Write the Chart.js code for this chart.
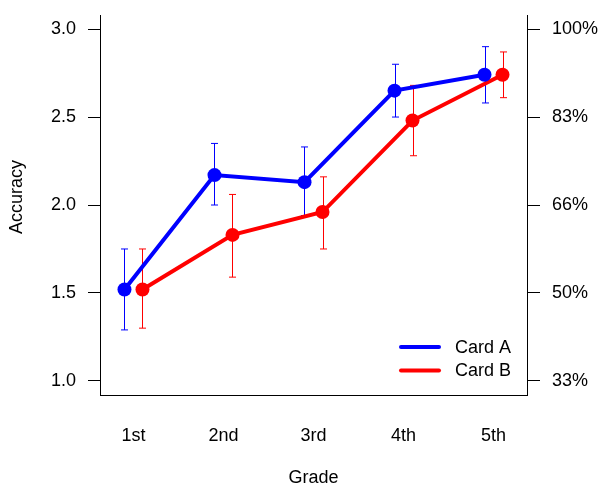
<!DOCTYPE html>
<html>
<head>
<meta charset="utf-8">
<script src="https://cdn.jsdelivr.net/npm/chart.js@4/dist/chart.umd.min.js"></script>
<style>
  html, body { margin: 0; padding: 0; background: #fff; }
  #chart { display: block; }
</style>
</head>
<body>
<canvas id="chart" width="603" height="488"></canvas>
<script>
var categories = ['1st', '2nd', '3rd', '4th', '5th'];

var cardA = [1.52, 2.17, 2.13, 2.65, 2.74];
var cardALow = [1.29, 2.00, 1.94, 2.50, 2.58];
var cardAHigh = [1.75, 2.35, 2.33, 2.80, 2.90];

var cardB = [1.52, 1.83, 1.96, 2.48, 2.74];
var cardBLow = [1.30, 1.59, 1.75, 2.28, 2.61];
var cardBHigh = [1.75, 2.06, 2.16, 2.68, 2.87];

var yTicks = [1.0, 1.5, 2.0, 2.5, 3.0];
var pctLabels = ['33%', '50%', '66%', '83%', '100%'];

var FONT = 'Liberation Sans, Arial, sans-serif';
var SIZE = 18;
var dodge = 0.1;

var toPoints = function (vals, shift) {
    return vals.map(function (v, i) {
        return { x: i + 1 + shift, y: v };
    });
};

var errorBars = {
    id: 'errorBars',
    beforeDatasetsDraw: function (chart) {
        var ctx = chart.ctx;
        var ys = chart.scales.y;
        chart.data.datasets.forEach(function (ds, di) {
            var meta = chart.getDatasetMeta(di);
            ctx.save();
            ctx.strokeStyle = ds.borderColor;
            ctx.lineWidth = 1;
            meta.data.forEach(function (pt, i) {
                var x = Math.round(pt.x) + 0.5;
                var y0 = ys.getPixelForValue(ds.low[i]);
                var y1 = ys.getPixelForValue(ds.high[i]);
                ctx.beginPath();
                ctx.moveTo(x, y0);
                ctx.lineTo(x, y1);
                ctx.moveTo(x - 3.5, y0);
                ctx.lineTo(x + 3.5, y0);
                ctx.moveTo(x - 3.5, y1);
                ctx.lineTo(x + 3.5, y1);
                ctx.stroke();
            });
            ctx.restore();
        });
    }
};

// legend inside the plot, bottom right, plus the y title
var boxLegend = {
    id: 'boxLegend',
    afterDatasetsDraw: function (chart) {
        var ctx = chart.ctx;
        var area = chart.chartArea;
        ctx.save();
        ctx.font = SIZE + 'px ' + FONT;
        ctx.textBaseline = 'middle';
        ctx.textAlign = 'left';
        chart.data.datasets.forEach(function (ds, i) {
            var y = area.bottom - 48 + i * 23.5;
            ctx.strokeStyle = ds.borderColor;
            ctx.lineWidth = 4;
            ctx.lineCap = 'round';
            ctx.beginPath();
            ctx.moveTo(area.right - 126, y);
            ctx.lineTo(area.right - 88, y);
            ctx.stroke();
            ctx.fillStyle = '#000';
            ctx.fillText(ds.label, area.right - 72, y + 1);
        });

        ctx.translate(17, (area.top + area.bottom) / 2 - 8);
        ctx.rotate(-Math.PI / 2);
        ctx.textAlign = 'center';
        ctx.fillText('Accuracy', 0, 0);
        ctx.restore();
    }
};

var setTicks = function (scale) {
    scale.ticks = yTicks.map(function (v) { return { value: v }; });
};

var fitY = function (w) {
    return function (scale) {
        scale.width = w;
        scale.paddingTop = 0;
        scale.paddingBottom = 0;
    };
};

var ctx = document.getElementById('chart').getContext('2d');
var chart = new Chart(ctx, {
    type: 'line',
    data: {
        datasets: [
            {
                label: 'Card A',
                data: toPoints(cardA, -dodge),
                low: cardALow,
                high: cardAHigh,
                borderColor: '#0000ff',
                backgroundColor: '#0000ff',
                borderWidth: 4,
                pointRadius: 7,
                pointBorderWidth: 0,
                pointBackgroundColor: '#0000ff'
            },
            {
                label: 'Card B',
                data: toPoints(cardB, dodge),
                low: cardBLow,
                high: cardBHigh,
                borderColor: '#ff0000',
                backgroundColor: '#ff0000',
                borderWidth: 4,
                pointRadius: 7,
                pointBorderWidth: 0,
                pointBackgroundColor: '#ff0000'
            }
        ]
    },
    options: {
        responsive: false,
        animation: false,
        devicePixelRatio: 1,
        layout: { padding: { top: 15, left: 0, right: 0, bottom: 0 } },
        plugins: {
            legend: { display: false },
            tooltip: { enabled: false }
        },
        scales: {
            x: {
                type: 'linear',
                min: 0.628,
                max: 5.372,
                afterBuildTicks: function (scale) {
                    scale.ticks = categories.map(function (c, i) { return { value: i + 1 }; });
                },
                afterFit: function (scale) {
                    scale.height = 93;
                    scale.paddingLeft = 0;
                    scale.paddingRight = 0;
                },
                grid: { display: false },
                border: { display: true, color: '#000', width: 1 },
                ticks: {
                    color: '#000',
                    font: { family: FONT, size: SIZE },
                    padding: 22,
                    maxRotation: 0,
                    callback: function (v) { return categories[Math.round(v) - 1]; }
                },
                title: {
                    display: true,
                    text: 'Grade',
                    color: '#000',
                    font: { family: FONT, size: SIZE },
                    padding: { top: 0, bottom: -1 }
                }
            },
            y: {
                type: 'linear',
                position: 'left',
                min: 0.92,
                max: 3.08,
                afterBuildTicks: setTicks,
                afterFit: fitY(100),
                grid: {
                    display: true,
                    drawOnChartArea: false,
                    drawTicks: true,
                    tickLength: 12,
                    tickColor: '#000',
                    color: '#000'
                },
                border: { display: true, color: '#000', width: 1 },
                ticks: {
                    color: '#000',
                    font: { family: FONT, size: SIZE },
                    padding: 12,
                    callback: function (v) { return v.toFixed(1); }
                }
            },
            y2: {
                type: 'linear',
                position: 'right',
                display: true,
                min: 0.92,
                max: 3.08,
                afterBuildTicks: setTicks,
                afterFit: fitY(76),
                grid: {
                    display: true,
                    drawOnChartArea: false,
                    drawTicks: true,
                    tickLength: 13,
                    tickColor: '#000',
                    color: '#000'
                },
                border: { display: true, color: '#000', width: 1 },
                ticks: {
                    color: '#000',
                    font: { family: FONT, size: SIZE },
                    padding: 12,
                    callback: function (v, i) { return pctLabels[i]; }
                }
            }
        }
    },
    plugins: [errorBars, boxLegend]
});
</script>
</body>
</html>
